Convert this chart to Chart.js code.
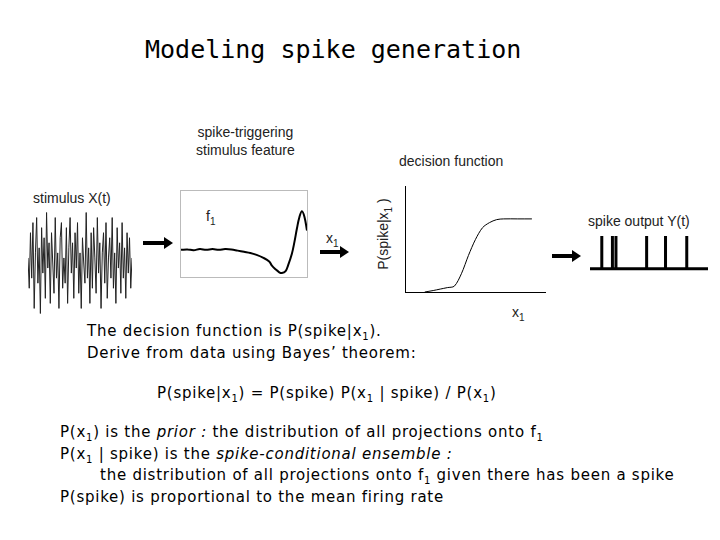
<!DOCTYPE html>
<html>
<head>
<meta charset="utf-8">
<script src="https://cdn.jsdelivr.net/npm/chart.js@4.4.0/dist/chart.umd.min.js"></script>
<style>
  body { margin: 0; background: #fff; }
  #slide { position: relative; width: 720px; height: 540px; overflow: hidden; font-family: "DejaVu Sans", sans-serif; color: #000; }
  .t { position: absolute; white-space: nowrap; }
  sub { font-size: 10px; line-height: 0; vertical-align: -4px; }
  .lbl { font-family: "Liberation Sans", Arial, sans-serif; font-size: 14px; color: #222; }
  .body { font-family: "DejaVu Sans", sans-serif; font-size: 15px; letter-spacing: 0.75px; }
  .box { position: absolute; }
  .arrow { position: absolute; height: 4px; background: #000; }
  .arrow::after { content: ""; position: absolute; right: -8px; top: -4px; border-left: 9px solid #000; border-top: 6px solid transparent; border-bottom: 6px solid transparent; }
</style>
</head>
<body>
<div id="slide">
  <div class="t" style="left:145px;top:35px;font-family:'DejaVu Sans Mono',monospace;font-size:25px;">Modeling spike generation</div>

  <div class="t lbl" style="left:196px;top:123px;text-align:center;line-height:18px;">spike-triggering<br>stimulus feature</div>
  <div class="t lbl" style="left:399px;top:153px;">decision function</div>
  <div class="t lbl" style="left:33px;top:190px;">stimulus X(t)</div>
  <div class="t lbl" style="left:588px;top:213px;">spike output Y(t)</div>
  <div class="t lbl" style="left:206px;top:208px;">f<sub>1</sub></div>
  <div class="t lbl" style="left:326px;top:230px;">x<sub>1</sub></div>
  <div class="t lbl" style="left:512px;top:304px;">x<sub>1</sub></div>
  <div class="t lbl" style="left:328px;top:226px;transform:rotate(-90deg);transform-origin:center;width:110px;text-align:center;">P(spike|x<sub>1</sub> )</div>

  <div class="box" style="left:28px;top:210px;width:104px;height:106px;"><canvas id="stim"></canvas></div>
  <div class="box" style="left:180px;top:190px;width:126px;height:86px;border:1px solid #bbb;"><canvas id="feat"></canvas></div>
  <div class="box" style="left:400px;top:186px;width:146px;height:110px;"><canvas id="sig"></canvas></div>
  <div class="box" style="left:590px;top:236px;width:118px;height:36px;"><canvas id="spk"></canvas></div>

  <div class="arrow" style="left:143px;top:241px;width:22px;"></div>
  <div class="arrow" style="left:320px;top:250px;width:21px;"></div>
  <div class="arrow" style="left:552px;top:254px;width:21px;"></div>

  <div class="t body" style="left:87px;top:320px;line-height:22px;">The decision function is P(spike|x<sub>1</sub>).<br>Derive from data using Bayes’ theorem:</div>
  <div class="t body" style="left:157px;top:384px;">P(spike|x<sub>1</sub>) = P(spike) P(x<sub>1</sub> | spike) / P(x<sub>1</sub>)</div>
  <div class="t body" style="left:60px;top:422px;line-height:21.5px;">
    P(x<sub>1</sub>) is the <i>prior :</i> the distribution of all projections onto f<sub>1</sub><br>
    P(x<sub>1</sub> | spike) is the <i>spike-conditional ensemble :</i><br>
    <span style="margin-left:40px">the distribution of all projections onto f<sub>1</sub> given there has been a spike</span><br>
    P(spike) is proportional to the mean firing rate
  </div>
</div>
<script>
// stimulus noise trace, values read by eye
const stimValues = [0.1, -0.5, 0.6, -0.3, 0.8, -0.9, 0.2, 0.9, -0.4, 0.3, -1.0, 0.7, -0.2, 0.5, -0.7, 1.0, -0.1, 0.4, -0.8, 0.6,
  0.0, -0.6, 0.9, -0.3, 0.2, -0.9, 0.5, 0.8, -0.5, 0.1, -0.4, 0.7, -0.8, 0.3, 0.9, -0.2, 0.4, -0.7, 0.6, -0.1,
  0.8, -0.6, 0.2, -0.9, 0.5, 0.0, -0.4, 1.0, -0.3, 0.3, -0.8, 0.6, -0.5, 0.7, 0.1, -0.6, 0.9, -0.2, 0.4, -0.9,
  0.2, 0.6, -0.4, 0.8, -0.7, 0.1, 0.5, -0.3, 0.9, -0.5, 0.2, -0.8, 0.7, -0.1, 0.4, -0.6, 0.8, -0.3, 0.3, -0.7,
  0.6, -0.2, 0.5, -0.5, 0.1];
// feature f1 shape (time bins -> amplitude)
const featX = [0, 5, 10, 15, 20, 25, 30, 35, 40, 45, 50, 55, 60, 65, 70, 72, 75, 78, 80, 83, 85, 88, 90, 92, 94, 96, 98, 100];
const featY = [0.0, 0.01, -0.01, 0.02, 0.0, 0.02, 0.0, 0.02, 0.01, -0.02, -0.05, -0.08, -0.13, -0.2, -0.3, -0.4, -0.5, -0.58, -0.6, -0.55, -0.4, -0.1, 0.2, 0.55, 0.85, 1.0, 0.85, 0.5];
// decision function P(spike|x1)
const sigX = [0, 14, 20, 25, 30, 35, 40, 45, 50, 55, 60, 65, 70, 80, 90, 100];
const sigY = [null, 0.0, 0.02, 0.04, 0.06, 0.08, 0.25, 0.5, 0.72, 0.88, 0.95, 0.99, 1.0, 1.0, 1.0, null];
// spike times in output train
const spikeTimes = [10, 19, 22, 48, 64, 82];

const base = { responsive: true, maintainAspectRatio: false, animation: false,
  plugins: { legend: { display: false }, tooltip: { enabled: false } } };

new Chart(document.getElementById('stim'), {
  type: 'line',
  data: { labels: stimValues.map((v, i) => i), datasets: [{ data: stimValues, borderColor: '#222', borderWidth: 1, pointRadius: 0, tension: 0 }] },
  options: { ...base, scales: { x: { display: false }, y: { display: false, min: -1.05, max: 1.05 } } }
});

new Chart(document.getElementById('feat'), {
  type: 'line',
  data: { datasets: [{ data: featX.map((x, i) => ({ x: x, y: featY[i] })), borderColor: '#000', borderWidth: 2, pointRadius: 0, tension: 0.4 }] },
  options: { ...base, layout: { padding: { top: 0, bottom: 2 } },
    scales: { x: { type: 'linear', display: false, min: 0, max: 100 }, y: { display: false, min: -0.65, max: 1.52 } } }
});

new Chart(document.getElementById('sig'), {
  type: 'line',
  data: { datasets: [{ data: sigX.map((x, i) => ({ x: x, y: sigY[i] })), borderColor: '#000', borderWidth: 1, pointRadius: 0, tension: 0.3 }] },
  options: { ...base, layout: { padding: { left: 5, bottom: 4 } },
    scales: {
      x: { type: 'linear', min: 0, max: 100, grid: { display: false, drawTicks: false }, ticks: { display: false }, border: { display: true, color: '#000', width: 1 } },
      y: { min: 0, max: 1.45, grid: { display: false, drawTicks: false }, ticks: { display: false }, border: { display: true, color: '#000', width: 1 } }
    } }
});

const spikeData = [];
spikeTimes.forEach(t => { spikeData.push({ x: t, y: 0 }, { x: t, y: 1 }, { x: t, y: null }); });
new Chart(document.getElementById('spk'), {
  type: 'line',
  data: { datasets: [
    { data: spikeData, borderColor: '#000', borderWidth: 3, pointRadius: 0, spanGaps: false },
    { data: [{ x: 0, y: 0 }, { x: 100, y: 0 }], borderColor: '#000', borderWidth: 3, pointRadius: 0 }
  ] },
  options: { ...base, scales: { x: { type: 'linear', display: false, min: 0, max: 100 }, y: { display: false, min: -0.1, max: 1 } } }
});
</script>
</body>
</html>
